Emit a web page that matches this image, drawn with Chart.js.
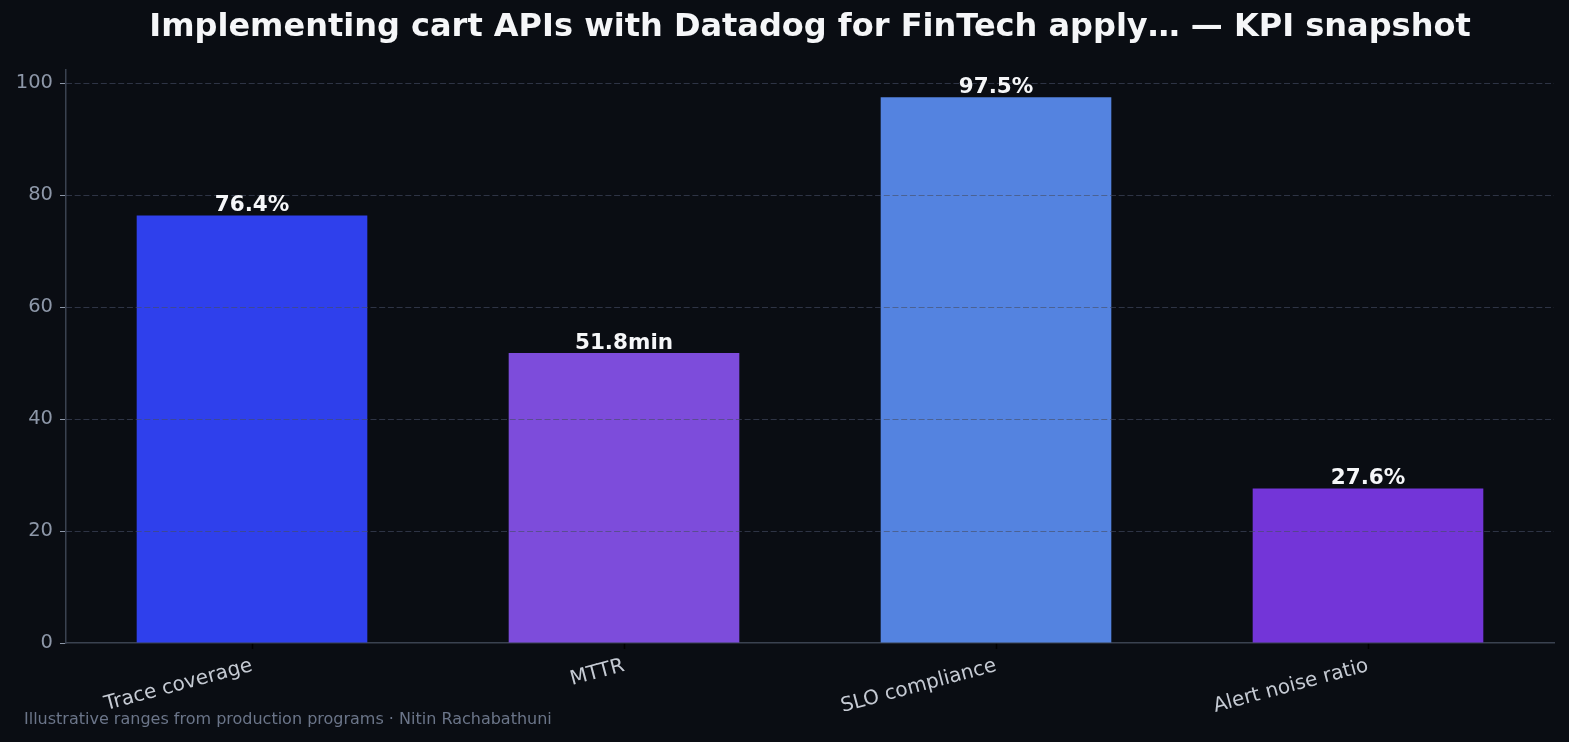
<!DOCTYPE html>
<html><head><meta charset="utf-8">
<script src="https://cdn.jsdelivr.net/npm/chart.js@4.4.1/dist/chart.umd.min.js"></script>
<style>html,body{margin:0;padding:0;background:#0a0d13;}#wrap{width:1569px;height:742px;position:relative;}</style>
</head><body><div id="wrap"><canvas id="c" width="1569" height="742"></canvas></div>
<script>
const categories = ["Trace coverage", "MTTR", "SLO compliance", "Alert noise ratio"];
const values = [76.4, 51.8, 97.5, 27.6];
const valueLabels = ["76.4%", "51.8min", "97.5%", "27.6%"];
const barColors = ["#2f40ec", "#7d4cdb", "#5483e0", "#7335d8"];
const yTicks = [0, 20, 40, 60, 80, 100];
const titleText = "Implementing cart APIs with Datadog for FinTech apply… — KPI snapshot";
const footerText = "Illustrative ranges from production programs · Nitin Rachabathuni";

const FONT = "'DejaVu Sans', sans-serif";

const overGrid = {
  id: 'overGrid',
  afterDatasetsDraw(chart) {
    const ctx = chart.ctx, a = chart.chartArea, y = chart.scales.y;
    ctx.save();
    ctx.strokeStyle = 'rgba(70,78,100,0.62)';
    ctx.lineWidth = 1;
    ctx.setLineDash([6, 2.7]);
    yTicks.forEach(v => {
      if (v === 0) return;
      const py = Math.round(y.getPixelForValue(v)) + 0.5;
      ctx.beginPath(); ctx.moveTo(a.left, py); ctx.lineTo(a.right, py); ctx.stroke();
    });
    ctx.restore();
  }
};

const decor = {
  id: 'decor',
  afterDraw(chart) {
    const ctx = chart.ctx, a = chart.chartArea;
    ctx.save();
    ctx.fillStyle = '#f5f6f8';
    ctx.font = "bold 32px " + FONT;
    ctx.textAlign = 'center'; ctx.textBaseline = 'middle';
    ctx.fillText(titleText, (a.left + a.right) / 2, 28);
    ctx.fillStyle = '#6b7589';
    ctx.font = "16px " + FONT;
    ctx.textAlign = 'left';
    ctx.fillText(footerText, 24, 720);
    const meta = chart.getDatasetMeta(0);
    ctx.fillStyle = '#f5f6f8';
    ctx.font = "bold 21.5px " + FONT;
    ctx.textAlign = 'center'; ctx.textBaseline = 'bottom';
    meta.data.forEach((bar, i) => {
      ctx.fillText(valueLabels[i], bar.x, bar.y + 1);
    });
    ctx.restore();
  }
};

new Chart(document.getElementById('c'), {
  type: 'bar',
  data: {
    labels: categories,
    datasets: [{ data: values, backgroundColor: barColors, borderWidth: 0, categoryPercentage: 1, barPercentage: 0.62 }]
  },
  options: {
    responsive: false,
    animation: false,
    devicePixelRatio: 1,
    layout: { padding: { left: 0, right: 15, top: 70, bottom: 0 } },
    plugins: { legend: { display: false }, tooltip: { enabled: false } },
    scales: {
      x: {
        grid: { display: true, drawOnChartArea: false, drawTicks: true, tickLength: 6, tickColor: '#000000', offset: false, tickWidth: 1.5 },
        border: { display: true, color: '#3a4250', width: 1.5 },
        ticks: { color: '#c5cad3', font: { family: FONT, size: 20 }, minRotation: 15, maxRotation: 15, padding: 5 },
        afterFit(s) { s.height = 99; }
      },
      y: {
        min: 0, max: 102.375,
        afterBuildTicks(s) { s.ticks = yTicks.map(v => ({ value: v })); },
        grid: { drawOnChartArea: false, tickColor: '#8d97a8', tickLength: 6, lineWidth: 1 },
        border: { display: true, color: '#3a4250', width: 1.5 },
        ticks: { color: '#8d97a8', font: { family: FONT, size: 19.5 }, padding: 7 },
        afterFit(s) { s.width = 66; }
      }
    }
  },
  plugins: [overGrid, decor]
});
</script></body></html>
